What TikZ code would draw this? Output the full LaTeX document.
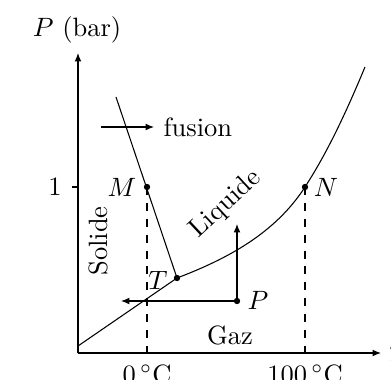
\documentclass[tikz,border=0pt]{standalone}
\usetikzlibrary{arrows.meta}
\begin{document}
\begin{tikzpicture}[x=0.3774pt,y=-0.3774pt,
  ax/.style={-{Latex[length=3.2pt,width=2.6pt]}, line width=0.45pt},
  arr/.style={-{Latex[length=3.2pt,width=2.6pt]}, line width=0.4pt},
  dot/.style={circle,fill,inner sep=0pt,minimum size=2.4pt},
  dsh/.style={dashed, line width=0.4pt},
  curve/.style={line width=0.4pt},
  lbl/.style={inner sep=0pt}]
\useasboundingbox (0,0) rectangle (391,379);
% axes
\coordinate (O) at (78,353);
\coordinate (Ytip) at (78,53);
\coordinate (Xtip) at (381,353);
\draw[ax] (O) -- (Ytip);
\draw[ax] (O) -- (Xtip);
\node[lbl] (ylab) at (77,30) {$P$ (bar)};
\node[lbl,anchor=west] (xlab) at (389,352) {$T$};
% tick 1
\coordinate (t1) at (72,187);
\coordinate (t1b) at (78,187);
\draw[line width=0.4pt] (t1) -- (t1b);
\node[lbl] (one) at (55,187) {1};
% points
\node[dot] (M) at (147,187) {};
\node[dot] (N) at (305,187) {};
\node[dot] (T) at (177,278) {};
\node[dot] (P) at (237,301) {};
\coordinate (M0) at (147,353);
\coordinate (N0) at (305,353);
\coordinate (Ftop) at (116,97);
\coordinate (S0) at (78,346);
\coordinate (Vtop) at (365,67);
% curves
\draw[curve] (Ftop) -- (T.center);
\draw[curve] (S0) -- (T.center);
\draw[curve] (T.center) .. controls (227,259) and (275,233.5) .. (N.center)
  .. controls (327,152.9) and (345,115) .. (Vtop);
% dashed
\draw[dsh] (M.center) -- (M0);
\draw[dsh] (N.center) -- (N0);
% arrows from P
\coordinate (Pleft) at (121,301);
\coordinate (Pup) at (237,224);
\draw[arr] (P.center) -- (Pleft);
\draw[arr] (P.center) -- (Pup);
% fusion arrow
\coordinate (fa) at (101,127);
\coordinate (fb) at (154,127);
\draw[arr] (fa) -- (fb);
\node[lbl,anchor=west] (fus) at (163,127) {fusion};
% labels
\node[lbl] (Ml) at (122,187) {$M$};
\node[lbl] (Nl) at (326,187) {$N$};
\node[lbl] (Tl) at (158,280) {$T$};
\node[lbl] (Pl) at (258,300) {$P$};
\node[lbl,rotate=90] (sol) at (98,241) {Solide};
\node[lbl,rotate=43] (liq) at (226,204) {Liquide};
\node[lbl,anchor=base] (gaz) at (230,344) {Gaz};
\node[lbl,anchor=base] (c0) at (147,383) {$0\,^\circ$C};
\node[lbl,anchor=base] (c100) at (305,383) {$100\,^\circ$C};
\end{tikzpicture}
\end{document}
